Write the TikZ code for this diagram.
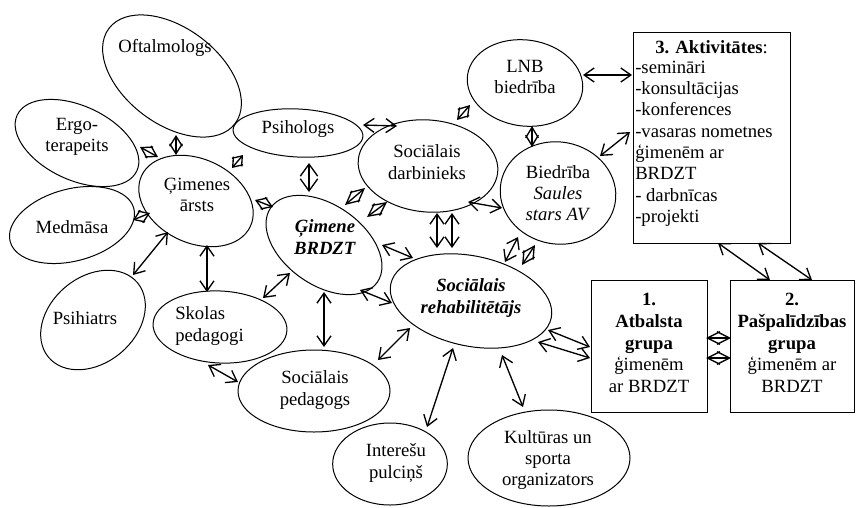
\documentclass[tikz,border=0pt]{standalone}
\usepackage{fontspec}
\setmainfont{Liberation Serif}
\usetikzlibrary{arrows.meta,shapes.geometric}
\begin{document}
\begin{tikzpicture}[x=0.75pt,y=-0.75pt,
  ell/.style={draw, ellipse, line width=0.75pt, inner sep=0pt},
  txt/.style={align=center, font=\fontsize{14}{16}\selectfont, inner sep=0pt},
  boxnode/.style={draw, line width=0.75pt, inner sep=0pt},
  arr/.style={line width=1pt, {Straight Barb[length=7.5pt,width=10.5pt]}-{Straight Barb[length=7.5pt,width=10.5pt]}},
  bigarr/.style={line width=1pt, {Straight Barb[length=9pt,width=13pt]}-{Straight Barb[length=9pt,width=13pt]}},
  hol/.style={line width=1pt, {Straight Barb[length=#1,width=9.5pt]}-{Straight Barb[length=#1,width=9.5pt]}},
]
\useasboundingbox (0,0) rectangle (856,507);

% ellipses
\node[ell, minimum width=118.5pt, minimum height=72pt, rotate=-37] (oft) at (172,76) {};
\node[ell, minimum width=99pt, minimum height=55.5pt, rotate=-25] (erg) at (77,143) {};
\node[ell, minimum width=96pt, minimum height=54pt, rotate=15] (med) at (72,225) {};
\node[ell, minimum width=87pt, minimum height=64.5pt, rotate=40] (psi) at (93,320) {};
\node[ell, minimum width=90pt, minimum height=63pt, rotate=-25] (gar) at (196,201) {};
\node[ell, minimum width=97.5pt, minimum height=36pt, rotate=-3] (psl) at (298,133) {};
\node[ell, minimum width=105pt, minimum height=69pt, rotate=-5] (sdb) at (428,166) {};
\node[ell, minimum width=87pt, minimum height=64.5pt, rotate=-8] (lnb) at (525,83) {};
\node[ell, minimum width=87pt, minimum height=76.5pt, rotate=-10] (bie) at (558,193) {};
\node[ell, minimum width=97.5pt, minimum height=60pt, rotate=-35] (gim) at (324,245) {};
\node[ell, minimum width=123pt, minimum height=67.5pt, rotate=-12] (reh) at (471,301) {};
\node[ell, minimum width=100.5pt, minimum height=54pt, rotate=-3] (sko) at (220,327) {};
\node[ell, minimum width=114pt, minimum height=61.5pt] (sped) at (314,391) {};
\node[ell, minimum width=86pt, minimum height=61.5pt] (int) at (390,464) {};
\node[ell, minimum width=121.5pt, minimum height=72pt] (kul) at (549,458) {};

% texts
\node[txt] (toft) at (165,48) {Oftalmologs};
\node[txt] (terg) at (77,137) {Ergo-\\terapeits};
\node[txt] (tmed) at (72,227) {Medmāsa};
\node[txt] (tpsi) at (85,318) {Psihiatrs};
\node[txt] (tgar) at (197,195) {Ģimenes\\ārsts};
\node[txt] (tpsl) at (298,129) {Psihologs};
\node[txt] (tsdb) at (427,162) {Sociālais\\darbinieks};
\node[txt] (tlnb) at (525,77) {LNB\\biedrība};
\node[txt] (tbie) at (558,193) {Biedrība\\\textit{Saules}\\\textit{stars AV}};
\node[txt] (tgim) at (325,237) {\textbf{\textit{Ģimene}}\\\textbf{\textit{BRDZT}}};
\node[txt] (treh) at (471,298) {\textbf{\textit{Sociālais}}\\\textbf{\textit{rehabilitētājs}}};
\node[txt, align=left, anchor=west] (tsko) at (175,326) {Skolas\\pedagogi};
\node[txt] (tsped) at (315,390) {Sociālais\\pedagogs};
\node[txt] (tint) at (396,463) {Interešu\\pulciņš};
\node[txt] (tkul) at (548,460) {Kultūras un\\sporta\\organizators};

% boxes
\node[boxnode, minimum width=117.75pt, minimum height=158.25pt] (akt) at (711.5,137.5) {};
\node[boxnode, minimum width=87pt, minimum height=99pt] (bx1) at (649,346) {};
\node[boxnode, minimum width=93pt, minimum height=99pt] (bx2) at (792,346) {};
\node[txt] (takt) at (711.5,47) {\textbf{3. Aktivitātes}:};
\node[txt, align=left, anchor=west] (tlist) at (635,143.5) {-semināri\\-konsultācijas\\-konferences\\-vasaras nometnes\\ģimenēm ar\\BRDZT\\- darbnīcas\\-projekti};
\node[txt, font=\fontsize{14}{16.3}\selectfont] (tbx1) at (649,343) {\textbf{1.}\\\textbf{Atbalsta}\\\textbf{grupa}\\ģimenēm\\ar BRDZT};
\node[txt, font=\fontsize{14}{16.3}\selectfont] (tbx2) at (792,343) {\textbf{2.}\\\textbf{Pašpalīdzības}\\\textbf{grupa}\\ģimenēm ar\\BRDZT};

% plain double arrows
\foreach \n/\a/\b/\c/\d in {
  1/583/75/632/75, 2/600/156/630/132, 3/363/125/397/126, 5/468/202/502/208,
  6/437/213/437/248, 7/452/213/452/248, 8/382/245/413/258, 9/360/290/392/303,
  10/324/292/324/347, 11/410/328/378/360, 12/453/348/427/427, 13/502/355/523/407,
  14/548/330/590/347, 15/538/342/590/358, 16/718/243/770/280, 17/758/243/812/280,
  18/505/262/518/237, 19/133/275/168/232, 20/207/245/207/292, 21/290/273/263/298,
  22/208/365/238/382} {
  \coordinate (p\n) at (\a,\b);
  \coordinate (q\n) at (\c,\d);
  \draw[arr] (p\n) -- (q\n);
}
\coordinate (p4) at (309,163);
\coordinate (q4) at (309,192);
\draw[bigarr] (p4) -- (q4);

% hollow (diamond) double arrows
\foreach \n/\a/\b/\c/\d/\L in {
  1/345/205/365/188/9.7pt, 2/367/217/387/202/9.5pt, 3/457/120/470/105/7.5pt,
  4/532/126/532/147/7.9pt, 5/522/265/535/245/9pt, 6/176/135/176/155/7.5pt,
  7/140/147/158/157/7.7pt, 8/243/155/232/168/6.4pt, 9/255/200/273/207/7.2pt,
  10/133/220/150/213/6.9pt, 11/706/338/731/338/9.4pt, 12/706/358/731/358/9.4pt} {
  \coordinate (hp\n) at (\a,\b);
  \coordinate (hq\n) at (\c,\d);
  \draw[hol=\L] (hp\n) -- (hq\n);
}
\end{tikzpicture}
\end{document}
